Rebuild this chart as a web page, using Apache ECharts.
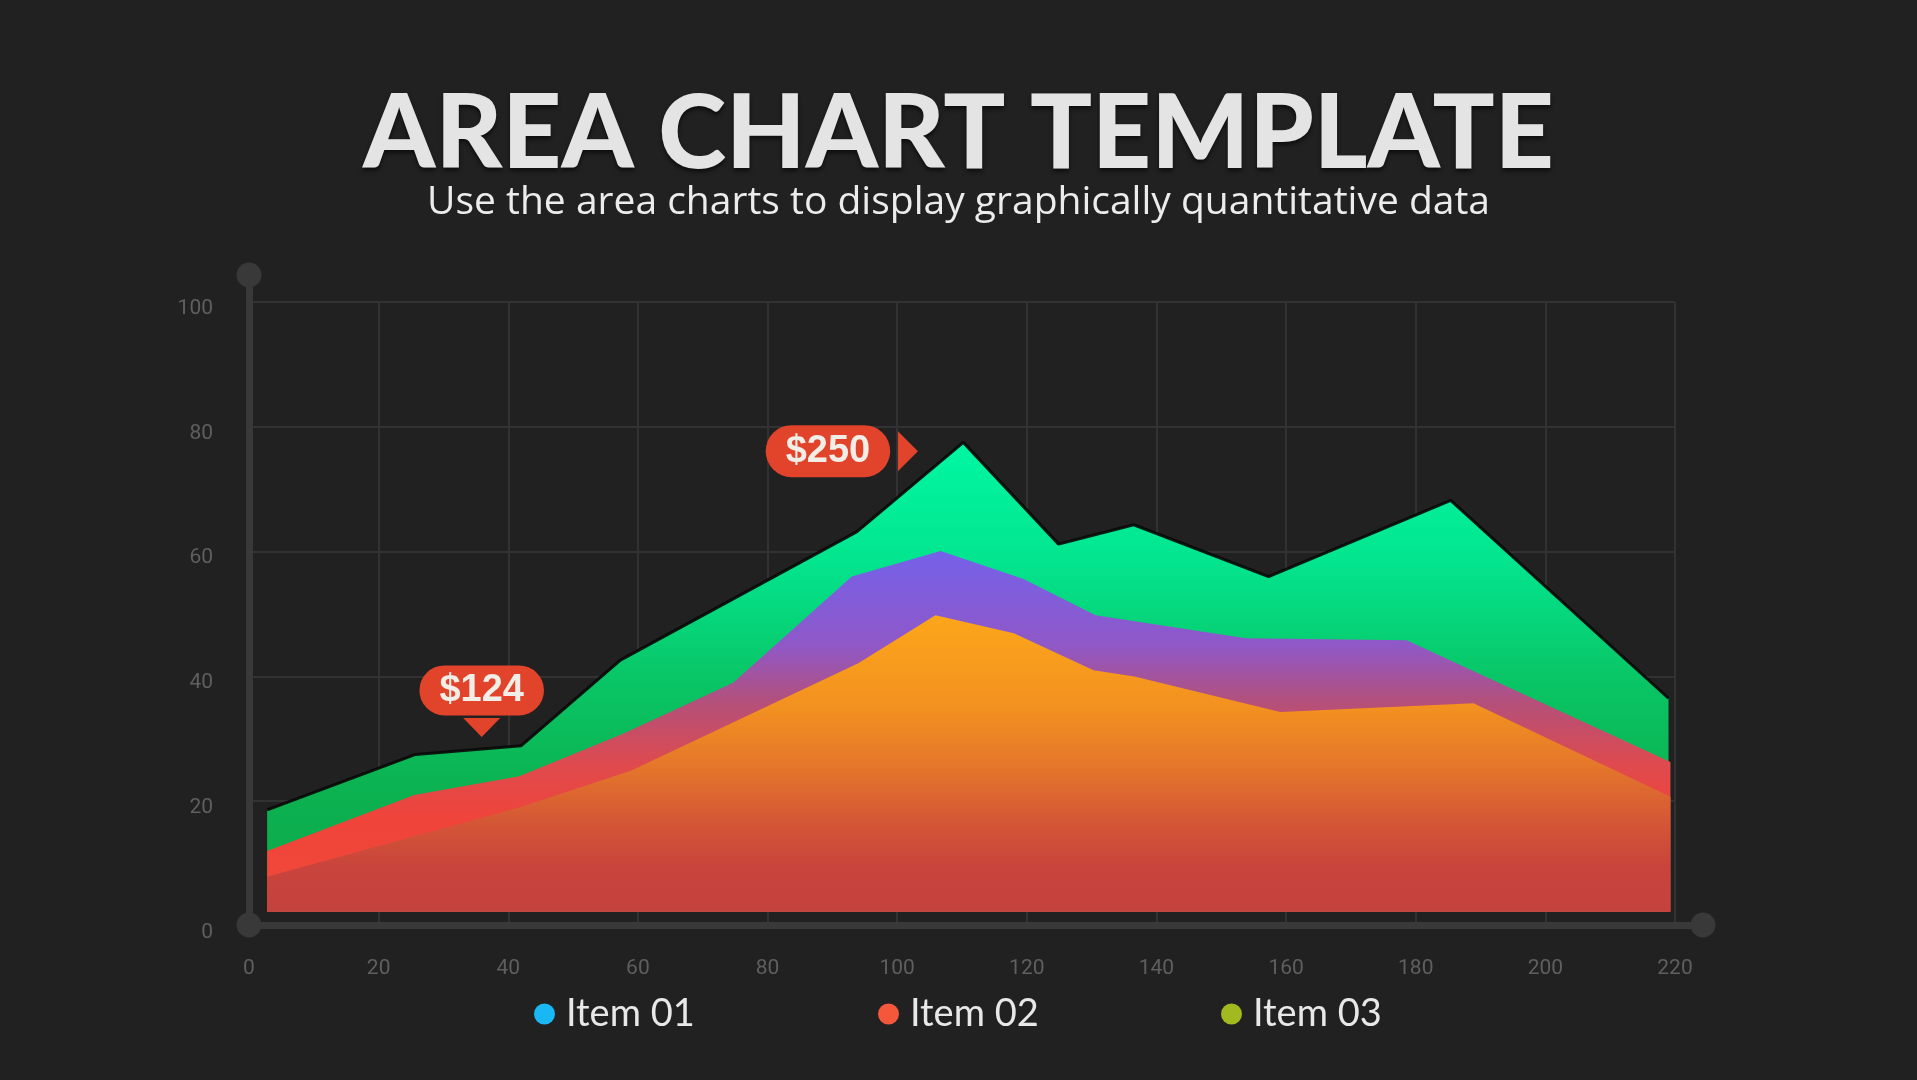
<!DOCTYPE html>
<html>
<head>
<meta charset="utf-8">
<script src="https://cdn.jsdelivr.net/npm/echarts@6/dist/echarts.min.js"></script>
<style>
html,body{margin:0;padding:0;background:#212121;}
#chart{width:1917px;height:1080px;}
</style>
</head>
<body>
<div id="chart"></div>
<script>
// ---- data ----
const titleText = 'AREA CHART TEMPLATE';
const subtitleText = 'Use the area charts to display graphically quantitative data';
const seriesNames = ['Item 01', 'Item 02', 'Item 03'];
const legendColors = ['#19b7f4', '#f5573a', '#a2b920'];

const item01X = [2.8, 25.7, 42.0, 57.3, 93.8, 110.2, 124.9, 136.5, 157.3, 185.4, 219.0];
const item01Y = [18.6, 27.5, 28.9, 42.6, 63.2, 77.5, 61.2, 64.3, 56.0, 68.2, 36.5];

const item02X = [2.8, 25.5, 41.7, 57.7, 74.7, 93.0, 106.7, 119.5, 130.6, 153.8, 178.6, 219.3];
const item02Y = [12.0, 21.0, 24.0, 30.8, 39.0, 56.0, 60.1, 55.6, 49.8, 46.1, 45.8, 26.3];

const item03X = [2.8, 25.5, 41.7, 59.0, 94.0, 105.9, 118.0, 130.3, 136.6, 159.1, 188.9, 219.3];
const item03Y = [7.9, 14.4, 19.0, 24.9, 42.1, 49.8, 46.9, 41.0, 40.0, 34.3, 35.7, 20.7];

const xTicks = [0, 20, 40, 60, 80, 100, 120, 140, 160, 180, 200, 220];
const yTicks = [0, 20, 40, 60, 80, 100];

const calloutText = ['$124', '$250'];
const calloutX = [35.9, 103.2];
const calloutY = [30.3, 76.1];

const areaFloor = 2.3;

function zip(xs, ys) { return xs.map((x, i) => [x, ys[i]]); }
const G = echarts.graphic.LinearGradient;

const chart = echarts.init(document.getElementById('chart'));

const legendLefts = [529, 873, 1216];

const option = {
  backgroundColor: '#212121',
  animation: false,
  title: [
    {
      text: titleText, left: 'center', top: 78,
      textStyle: {
        fontFamily: 'Lato', fontWeight: 900, fontSize: 103, color: '#e4e4e4',
        textShadowColor: 'rgba(0,0,0,0.6)', textShadowBlur: 4, textShadowOffsetY: 3
      }
    },
    {
      text: subtitleText, left: 'center', top: 178,
      textStyle: { fontFamily: 'Open Sans', fontWeight: 'normal', fontSize: 39, color: '#ececec' }
    }
  ],
  grid: [
    { left: 249, right: 242, top: 302, bottom: 154 },
    { left: 249, right: 214, top: 275, bottom: 155 }
  ],
  legend: seriesNames.map((n, i) => ({
    data: [{ name: n, itemStyle: { color: legendColors[i] } }],
    left: legendLefts[i], top: 990,
    icon: 'circle', itemWidth: 33, itemHeight: 21,
    selectedMode: false,
    textStyle: { fontFamily: 'Lato', fontSize: 38, color: '#e8e8e8' }
  })),
  xAxis: [
    {
      type: 'value', gridIndex: 0, min: xTicks[0], max: xTicks[xTicks.length - 1], interval: 20,
      axisLine: { show: false }, axisTick: { show: false },
      axisLabel: { margin: 32, color: '#5f5f5f', fontSize: 21, fontFamily: 'Roboto' },
      splitLine: { show: true, lineStyle: { color: '#323232', width: 2 } }
    },
    {
      type: 'value', gridIndex: 1, min: 0, max: 1,
      axisLine: { show: true, onZero: false, symbol: ['circle', 'circle'], symbolSize: [25, 25],
        lineStyle: { color: '#393939', width: 7 } },
      axisTick: { show: false }, axisLabel: { show: false }, splitLine: { show: false }
    }
  ],
  yAxis: [
    {
      type: 'value', gridIndex: 0, min: yTicks[0], max: yTicks[yTicks.length - 1], interval: 20,
      axisLine: { show: false }, axisTick: { show: false },
      axisLabel: { margin: 36, color: '#5f5f5f', fontSize: 21, fontFamily: 'Roboto', lineHeight: 13, verticalAlign: 'top' },
      splitLine: { show: true, lineStyle: { color: '#323232', width: 2 } }
    },
    {
      type: 'value', gridIndex: 1, min: 0, max: 1,
      axisLine: { show: true, onZero: false, symbol: ['none', 'circle'], symbolSize: [25, 25],
        lineStyle: { color: '#393939', width: 7 } },
      axisTick: { show: false }, axisLabel: { show: false }, splitLine: { show: false }
    }
  ],
  series: [
    {
      name: seriesNames[0], type: 'line', xAxisIndex: 0, yAxisIndex: 0,
      data: zip(item01X, item01Y), showSymbol: false, symbol: 'none', z: 2,
      lineStyle: { color: 'rgba(8,8,8,0.9)', width: 3 },
      areaStyle: {
        origin: areaFloor, opacity: 1,
        color: new G(0, 0, 0, 1, [
          { offset: 0, color: '#00f7a2' },
          { offset: 0.25, color: '#03e58f' },
          { offset: 0.5, color: '#09c666' },
          { offset: 0.75, color: '#0cb150' },
          { offset: 1, color: '#0ca84a' }
        ])
      }
    },
    {
      name: seriesNames[1], type: 'line', xAxisIndex: 0, yAxisIndex: 0,
      data: zip(item02X, item02Y), showSymbol: false, symbol: 'none', z: 3,
      lineStyle: { width: 0, opacity: 0 },
      areaStyle: {
        origin: areaFloor, opacity: 1,
        color: new G(0, 0, 0, 1, [
          { offset: 0, color: '#7561ea' },
          { offset: 0.26, color: '#8f58c8' },
          { offset: 0.42, color: '#b4507a' },
          { offset: 0.6, color: '#e04a4c' },
          { offset: 0.75, color: '#f0443a' },
          { offset: 1, color: '#ef4a38' }
        ])
      }
    },
    {
      name: seriesNames[2], type: 'line', xAxisIndex: 0, yAxisIndex: 0,
      data: zip(item03X, item03Y), showSymbol: false, symbol: 'none', z: 4,
      lineStyle: { width: 0, opacity: 0 },
      areaStyle: {
        origin: areaFloor, opacity: 1,
        color: new G(0, 0, 0, 1, [
          { offset: 0, color: '#fca61a' },
          { offset: 0.3, color: '#f39220' },
          { offset: 0.5, color: '#e5782a' },
          { offset: 0.7, color: '#d45636' },
          { offset: 0.85, color: '#c8443c' },
          { offset: 1, color: '#c4423e' }
        ])
      },
      markPoint: {
        z: 10,
        data: [
          {
            coord: [calloutX[0], calloutY[0]],
            symbol: 'path://M0,0L37,0L18.5,19Z', symbolSize: [37, 19], symbolOffset: [0, '-50%'],
            itemStyle: { color: '#e2432b' },
            label: {
              show: true, position: 'inside', offset: [0, -37], formatter: calloutText[0],
              fontFamily: 'Liberation Sans', fontWeight: 'bold', fontSize: 38, lineHeight: 38,
              color: '#f1ede7', backgroundColor: '#e2432b', borderRadius: 25, padding: [6, 20]
            }
          },
          {
            coord: [calloutX[1], calloutY[1]],
            symbol: 'path://M0,0L20,20L0,40Z', symbolSize: [20, 40], symbolOffset: ['-50%', 0],
            itemStyle: { color: '#e2432b' },
            label: {
              show: true, position: 'inside', offset: [-80, 0], formatter: calloutText[1],
              fontFamily: 'Liberation Sans', fontWeight: 'bold', fontSize: 38, lineHeight: 38,
              color: '#f1ede7', backgroundColor: '#e2432b', borderRadius: 26, padding: [7, 20]
            }
          }
        ]
      }
    }
  ]
};
chart.setOption(option);
</script>
</body>
</html>
